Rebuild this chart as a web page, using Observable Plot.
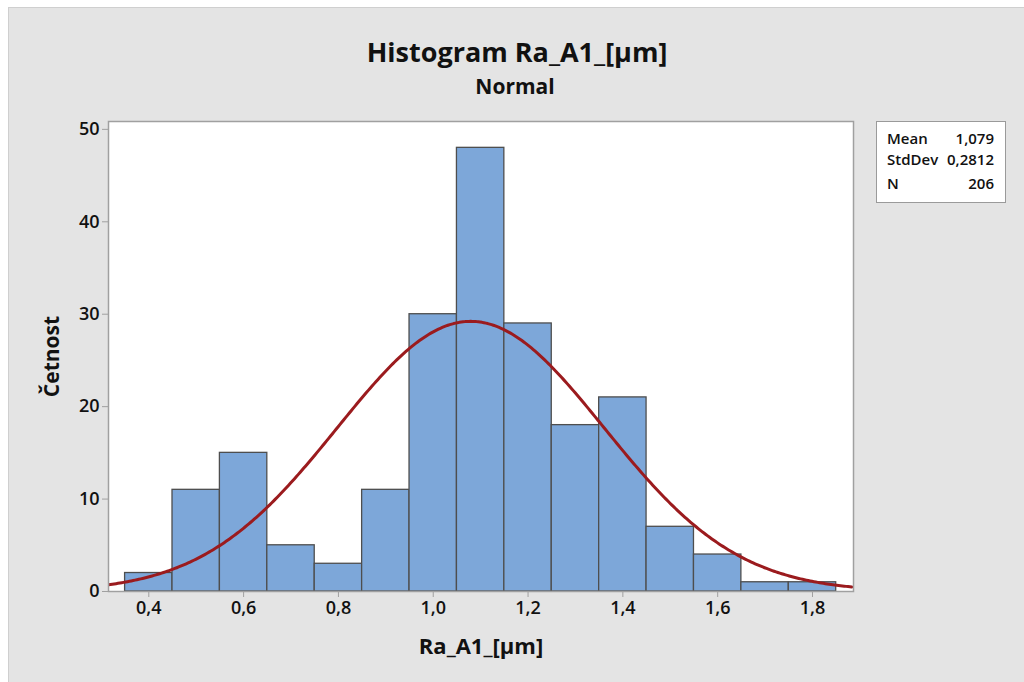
<!DOCTYPE html>
<html>
<head>
<meta charset="utf-8">
<script src="https://cdn.jsdelivr.net/npm/d3@7"></script>
<script src="https://cdn.jsdelivr.net/npm/@observablehq/plot@0.6"></script>
<style>
  html, body { margin: 0; padding: 0; background: #ffffff; width: 1024px; height: 682px; overflow: hidden; }
  #panel { position: absolute; left: 8px; top: 7px; width: 1030px; height: 690px; background: #e4e4e4; border-left: 1px solid #cfcfcf; border-top: 1px solid #cfcfcf; box-sizing: border-box; }
  .t { position: absolute; font-family: "Open Sans", sans-serif; color: #111; white-space: nowrap; line-height: 1.3; }
  #title { left: 0; width: 1034px; top: 34px; text-align: center; font-size: 27px; font-weight: 700; }
  #subtitle { left: 0; width: 1030px; top: 73px; text-align: center; font-size: 21px; font-weight: 700; }
  #chart { position: absolute; left: 0; top: 100px; }
  #legend { position: absolute; left: 876px; top: 121px; width: 130px; height: 82px; background: #fff; border: 1px solid #9a9a9a; box-sizing: border-box; font-family: "Open Sans", sans-serif; font-size: 15px; font-weight: 600; color: #111; }
  #legend .row { position: absolute; left: 10px; right: 11px; height: 20px; line-height: 20px; }
  #legend .k { position: absolute; left: 0; }
  #legend .v { position: absolute; right: 0; }
</style>
</head>
<body>
<div id="panel"></div>
<div class="t" id="title"></div>
<div class="t" id="subtitle"></div>
<div id="chart"></div>
<div id="legend"></div>
<script>
// ---- data ----
const titleText = "Histogram Ra_A1_[µm]";
const subtitleText = "Normal";
const xLabel = "Ra_A1_[µm]";
const yLabel = "Četnost";
const binStarts = [0.35, 0.45, 0.55, 0.65, 0.75, 0.85, 0.95, 1.05, 1.15, 1.25, 1.35, 1.45, 1.55, 1.65, 1.75];
const binWidth = 0.1;
const counts = [2, 11, 15, 5, 3, 11, 30, 48, 29, 18, 21, 7, 4, 1, 1];
const statNames = ["Mean", "StdDev", "N"];
const statLabels = ["1,079", "0,2812", "206"];
const mean = 1.079;
const stdev = 0.2812;
const nObs = 206;
const xTicks = [0.4, 0.6, 0.8, 1.0, 1.2, 1.4, 1.6, 1.8];
const yTicks = [0, 10, 20, 30, 40, 50];
const xDomain = [0.315, 1.8865];
const yDomain = [0, 50.85];

// ---- derived tables ----
const bars = binStarts.map((s, i) => ({x1: s, x2: s + binWidth, count: counts[i]}));
// fitted normal curve scaled to counts (defined by Mean, StdDev, N)
const curve = d3.range(xDomain[0], xDomain[1] + 0.0001, 0.004).map(x => ({
  x,
  y: nObs * binWidth * Math.exp(-0.5 * ((x - mean) / stdev) ** 2) / (stdev * Math.sqrt(2 * Math.PI))
}));

document.getElementById("title").textContent = titleText;
document.getElementById("subtitle").textContent = subtitleText;

const fmt = d => d3.format(".1f")(d).replace(".", ",");

const plot = Plot.plot({
  width: 880,
  height: 580,
  marginLeft: 108,
  marginRight: 27,
  marginTop: 21,
  marginBottom: 89,
  style: {background: "transparent", fontFamily: "'Open Sans', sans-serif", fontSize: "14px", fontWeight: 600, color: "#111"},
  x: {domain: xDomain},
  y: {domain: yDomain},
  marks: [
    Plot.frame({fill: "white", stroke: "none"}),
    Plot.rectY(bars, {x1: "x1", x2: "x2", y: "count", fill: "#7da7d9", stroke: "#4e4e4e", strokeWidth: 1.3}),
    Plot.line(curve, {x: "x", y: "y", stroke: "#9b1b1e", strokeWidth: 3, clip: true}),
    Plot.frame({stroke: "#a0a0a0", strokeWidth: 1.5}),
    Plot.axisX({ticks: xTicks, tickFormat: fmt, tickSize: 6, tickPadding: 4, stroke: "#a0a0a0", fontSize: 18,
      label: xLabel, labelAnchor: "center", labelArrow: "none", labelOffset: 62}),
    Plot.axisY({ticks: yTicks, tickSize: 6, tickPadding: 3, stroke: "#a0a0a0", fontSize: 18,
      label: yLabel, labelAnchor: "center", labelArrow: "none", labelOffset: 64})
  ]
});
document.getElementById("chart").appendChild(plot);
// enlarge axis labels
plot.querySelectorAll("g[aria-label='x-axis label'] text").forEach(t => {
  t.setAttribute("font-size", 22);
  t.setAttribute("font-weight", 700);
});
plot.querySelectorAll("g[aria-label='y-axis label'] text").forEach(t => {
  t.setAttribute("font-size", 21);
  t.setAttribute("font-weight", 700);
});

const legend = document.getElementById("legend");
const rowTops = [6, 27, 51];
statNames.forEach((k, i) => {
  const row = document.createElement("div");
  row.className = "row";
  row.style.top = rowTops[i] + "px";
  const a = document.createElement("span"); a.className = "k"; a.textContent = k;
  const b = document.createElement("span"); b.className = "v"; b.textContent = statLabels[i];
  row.appendChild(a); row.appendChild(b);
  legend.appendChild(row);
});
</script>
</body>
</html>
